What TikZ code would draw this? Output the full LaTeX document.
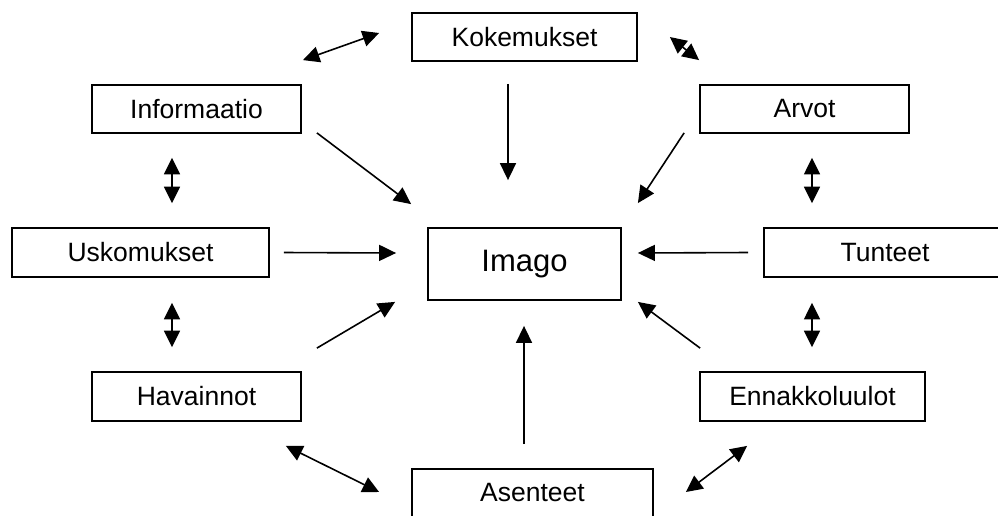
\documentclass[tikz,border=0pt]{standalone}
\usepackage{fontspec}
\setmainfont{Liberation Sans}
\usetikzlibrary{arrows.meta,calc}
\begin{document}
\begin{tikzpicture}[x=1pt,y=-1pt,
  box/.style={draw=black,line width=1.8pt,rectangle,inner sep=0pt,
    font=\fontsize{26.5}{30}\selectfont},
  conn/.style={line width=1.6pt,-{Triangle[length=17pt,width=16pt]}},
  both/.style={line width=1.6pt,{Triangle[length=16.5pt,width=16pt]}-{Triangle[length=16.5pt,width=16pt]}}]
\useasboundingbox (0,0) rectangle (998,515);
\clip (0,0) rectangle (998,515);
\fill[white] (0,0) rectangle (998,515);
\node[box,minimum width=225pt,minimum height=48pt] (kok) at (524.5,37) {Kokemukset};
\node[box,minimum width=209pt,minimum height=48pt] (info) at (196.5,109) {Informaatio};
\node[box,minimum width=209pt,minimum height=48pt] (arvot) at (804.5,109) {Arvot};
\node[box,minimum width=257pt,minimum height=49pt] (usk) at (140.5,252.5) {Uskomukset};
\node[box,minimum width=193pt,minimum height=72pt,font=\fontsize{31}{34}\selectfont] (imago) at (524.5,264) {Imago};
\node[box,minimum width=242pt,minimum height=49pt] (tunt) at (885,252.5) {Tunteet};
\node[box,minimum width=209pt,minimum height=49pt] (hav) at (196.5,396.5) {Havainnot};
\node[box,minimum width=225pt,minimum height=49pt] (enn) at (812.5,396.5) {Ennakkoluulot};
\node[box,minimum width=241pt,minimum height=48pt] (as) at (532.5,493) {Asenteet};
% double arrows
\draw[both] ($(info.north east)+(1,-24)$) -- ($(kok.west)+(-32,-4)$);
\draw[both] ($(kok.east)+(32,0)$) -- ($(arvot.north west)+(0,-24)$);
\draw[both] ($(info.south)+(-24.5,24)$) -- ($(usk.north)+(31.5,-24)$);
\draw[both] ($(arvot.south)+(7.5,24)$) -- ($(tunt.north)+(-73,-24)$);
\draw[both] ($(usk.south)+(31.5,25)$) -- ($(hav.north)+(-24.5,-24)$);
\draw[both] ($(tunt.south)+(-73,25)$) -- ($(enn.north)+(-0.5,-24)$);
\draw[both] ($(hav.south east)+(-16,24)$) -- ($(as.west)+(-32,-1)$);
\draw[both] ($(enn.south west)+(48,24)$) -- ($(as.east)+(32,-1)$);
% arrows into Imago
\draw[conn] ($(kok.south)+(-16.5,22)$) -- ($(imago.north)+(-16.5,-47)$);
\draw[conn] ($(info.south east)+(15,-1)$) -- ($(imago.north west)+(-16,-23)$);
\draw[conn] ($(arvot.south west)+(-15,-1)$) -- ($(imago.north east)+(16,-24)$);
\draw[conn] ($(usk.east)+(14,0)$) -- ($(imago.west)+(-31,-11)$);
\draw[conn] ($(tunt.west)+(-15,0)$) -- ($(imago.east)+(16,-11)$);
\draw[conn] ($(hav.north east)+(15,-23)$) -- ($(imago.south west)+(-32,1)$);
\draw[conn] ($(enn.north west)+(1,-23)$) -- ($(imago.south east)+(16,1)$);
\draw[conn] ($(as.north)+(-8.5,-24)$) -- ($(imago.south)+(-0.5,25)$);
\end{tikzpicture}
\end{document}
